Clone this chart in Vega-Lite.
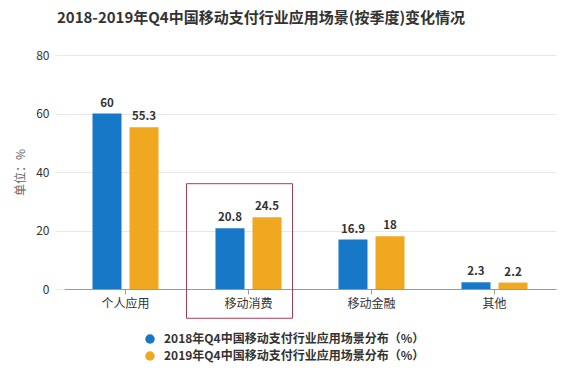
{
  "$schema": "https://vega.github.io/schema/vega-lite/v6.json",
  "width": 492,
  "height": 234,
  "autosize": "none",
  "padding": {"left": 64, "top": 55, "right": 15, "bottom": 86},
  "background": "white",
  "config": {
    "font": "Noto Sans CJK SC",
    "view": {"stroke": null}
  },
  "title": {
    "text": "2018-2019年Q4中国移动支付行业应用场景(按季度)变化情况",
    "anchor": "middle",
    "frame": "group",
    "dx": -49,
    "fontSize": 15,
    "fontWeight": "bold",
    "color": "#333333",
    "offset": 23
  },
  "data": {
    "values": [
      {"cat": "个人应用", "series": "2018年Q4中国移动支付行业应用场景分布（%）", "value": 60},
      {"cat": "个人应用", "series": "2019年Q4中国移动支付行业应用场景分布（%）", "value": 55.3},
      {"cat": "移动消费", "series": "2018年Q4中国移动支付行业应用场景分布（%）", "value": 20.8},
      {"cat": "移动消费", "series": "2019年Q4中国移动支付行业应用场景分布（%）", "value": 24.5},
      {"cat": "移动金融", "series": "2018年Q4中国移动支付行业应用场景分布（%）", "value": 16.9},
      {"cat": "移动金融", "series": "2019年Q4中国移动支付行业应用场景分布（%）", "value": 18},
      {"cat": "其他", "series": "2018年Q4中国移动支付行业应用场景分布（%）", "value": 2.3},
      {"cat": "其他", "series": "2019年Q4中国移动支付行业应用场景分布（%）", "value": 2.2}
    ]
  },
  "encoding": {
    "x": {
      "field": "cat",
      "type": "nominal",
      "sort": ["个人应用", "移动消费", "移动金融", "其他"],
      "scale": {"paddingInner": 0.463, "paddingOuter": 0.2315},
      "axis": {
        "title": null,
        "labelAngle": 0,
        "labelFontSize": 12,
        "labelColor": "#333333",
        "domainColor": "#999999",
        "tickColor": "#999999",
        "tickSize": 5,
        "labelPadding": 4
      }
    }
  },
  "layer": [
    {
      "mark": {"type": "bar"},
      "encoding": {
        "xOffset": {"field": "series", "type": "nominal", "scale": {"paddingInner": 0.216, "paddingOuter": 0}},
        "y": {
          "field": "value",
          "type": "quantitative",
          "scale": {"domain": [0, 80], "nice": false},
          "axis": {
            "title": "单位：%",
            "titleColor": "#666666",
            "titleFontWeight": "normal",
            "titleFontSize": 12,
            "titlePadding": 8,
            "values": [0, 20, 40, 60, 80],
            "labelFontSize": 12,
            "labelColor": "#333333",
            "domain": false,
            "ticks": true,
            "tickSize": 9,
            "tickColor": "#e8e8e8",
            "gridColor": "#e8e8e8",
            "labelPadding": 6
          }
        },
        "color": {
          "field": "series",
          "type": "nominal",
          "scale": {"range": ["#1878c8", "#f0a820"]},
          "legend": {
            "title": null,
            "orient": "none",
            "legendX": 80,
            "legendY": 278,
            "direction": "vertical",
            "symbolType": "circle",
            "symbolSize": 90,
            "labelFontSize": 12,
            "labelFontWeight": "bold",
            "labelColor": "#333333",
            "labelOffset": 8,
            "rowPadding": 5,
            "labelLimit": 400
          }
        }
      }
    },
    {
      "mark": {"type": "text", "baseline": "bottom", "dy": -5, "fontSize": 11.5, "fontWeight": "bold", "color": "#333333"},
      "encoding": {
        "xOffset": {"field": "series", "type": "nominal", "scale": {"paddingInner": 0.216, "paddingOuter": 0}},
        "y": {"field": "value", "type": "quantitative"},
        "text": {"field": "value", "type": "quantitative"}
      }
    },
    {
      "data": {"values": [{"cat": "移动消费", "top": 36, "bottom": -10}]},
      "mark": {"type": "rect", "fill": null, "stroke": "#a83c50", "strokeWidth": 1, "width": 106, "xOffset": -9},
      "encoding": {
        "y": {"field": "top", "type": "quantitative"},
        "y2": {"field": "bottom"}
      }
    }
  ]
}
